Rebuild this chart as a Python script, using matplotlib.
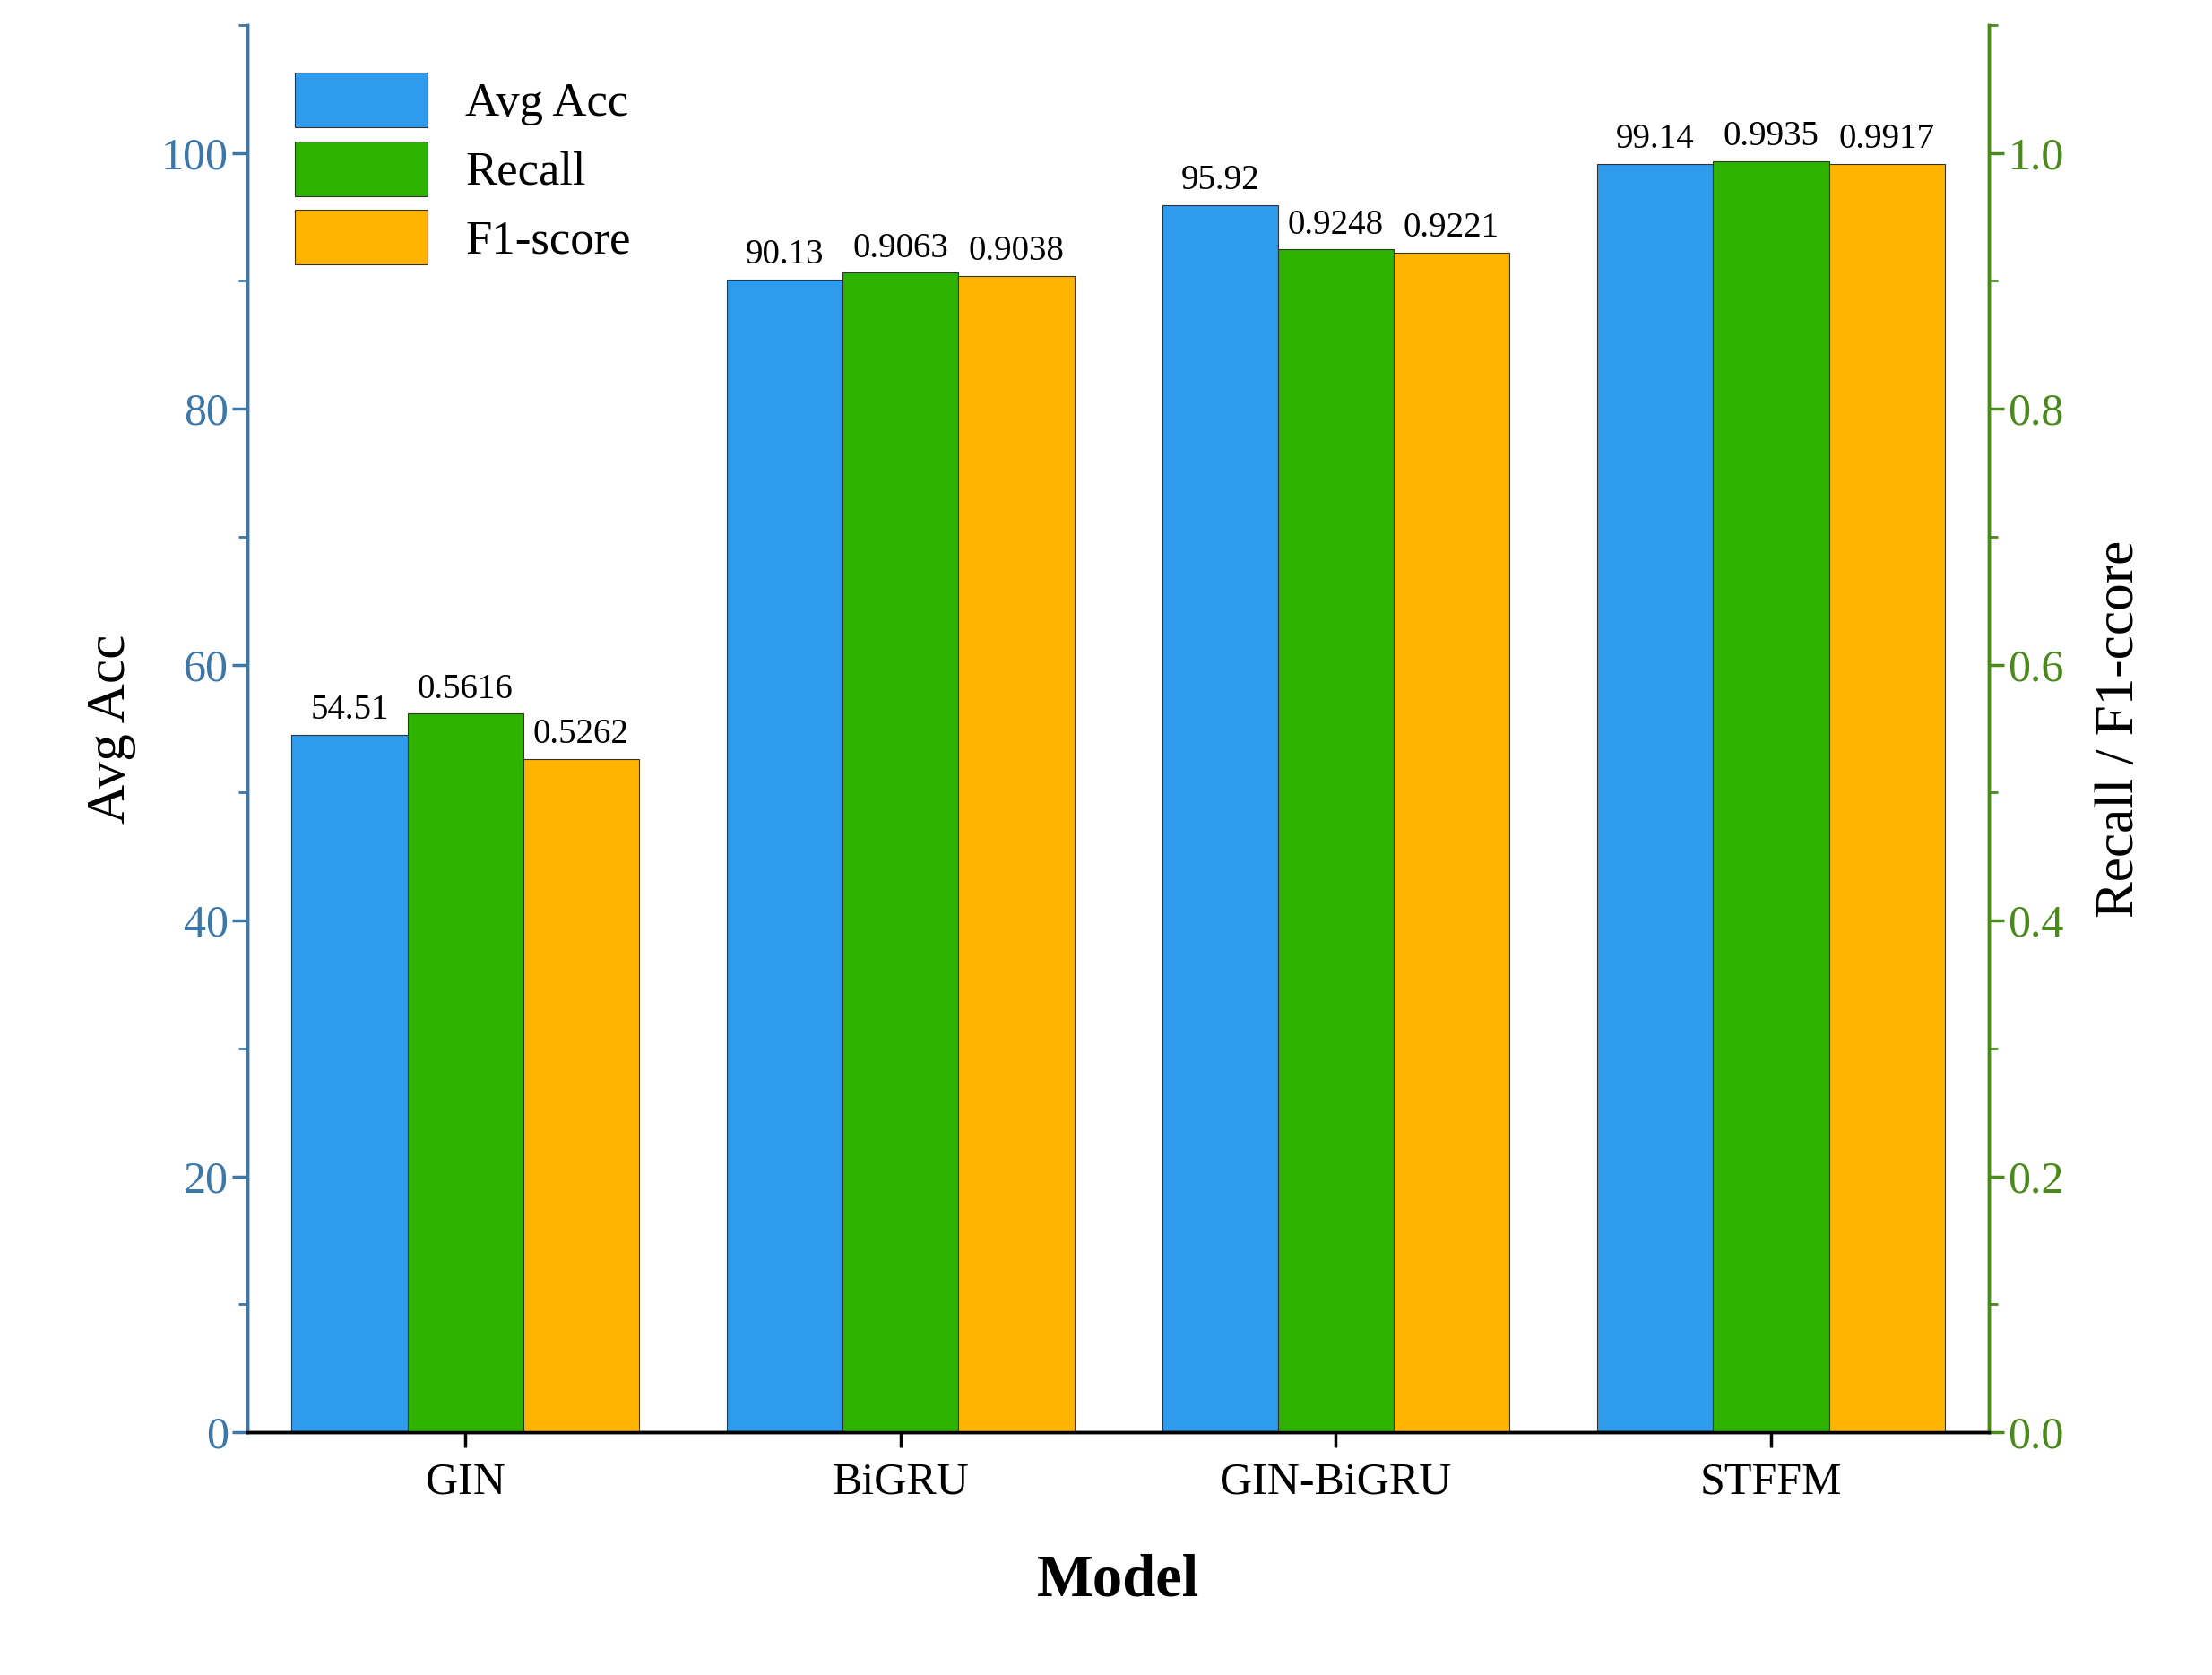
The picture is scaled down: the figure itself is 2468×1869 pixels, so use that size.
import matplotlib
matplotlib.use("Agg")
import matplotlib.pyplot as plt
import numpy as np
from matplotlib.ticker import MultipleLocator

models = ["GIN", "BiGRU", "GIN-BiGRU", "STFFM"]
avg_acc = [54.51, 90.13, 95.92, 99.14]
recall = [0.5616, 0.9063, 0.9248, 0.9935]
f1 = [0.5262, 0.9038, 0.9221, 0.9917]

plt.rcParams['font.family'] = ['Liberation Serif', 'DejaVu Serif']
blue, green, orange = "#2E9BEC", "#2DB300", "#FFB400"
lcol, rcol = "#3B77A8", "#4A8A1A"

fig = plt.figure(figsize=(24.68, 18.69), dpi=100)
ax = fig.add_axes([0.112, 0.145, 0.787, 0.84])
ax2 = ax.twinx()
x = np.arange(len(models))
w = 0.266
b1 = ax.bar(x - w, avg_acc, w, color=blue, edgecolor="#333333", linewidth=0.8, label="Avg Acc")
b2 = ax2.bar(x, recall, w, color=green, edgecolor="#333333", linewidth=0.8, label="Recall")
b3 = ax2.bar(x + w, f1, w, color=orange, edgecolor="#333333", linewidth=0.8, label="F1-score")
for b, v in zip(b1, avg_acc):
    ax.text(b.get_x() + w/2, v + 0.6, f"{v:.2f}", ha="center", va="bottom", fontsize=28)
for bars, vals in ((b2, recall), (b3, f1)):
    for b, v in zip(bars, vals):
        ax2.text(b.get_x() + w/2, v + 0.006, f"{v:.4f}", ha="center", va="bottom", fontsize=28)

ax.set_xlim(-0.5, 3.5)
ax.set_ylim(0, 110)
ax2.set_ylim(0, 1.1)
ax.set_xticks(x)
ax.set_xticklabels(models, fontsize=36)
ax.yaxis.set_major_locator(MultipleLocator(20))
ax.yaxis.set_minor_locator(MultipleLocator(10))
ax2.yaxis.set_major_locator(MultipleLocator(0.2))
ax2.yaxis.set_minor_locator(MultipleLocator(0.1))
ax2.set_yticks(np.arange(0, 1.01, 0.2))
ax2.set_yticklabels([f"{t:.1f}" for t in np.arange(0, 1.01, 0.2)])
ax.tick_params(axis='y', colors=lcol, labelsize=36, width=2.5, length=12, which='major')
ax.tick_params(axis='y', colors=lcol, width=2, length=7, which='minor')
ax.tick_params(axis='x', width=2.5, length=12, labelsize=36, pad=12)
ax2.tick_params(axis='y', colors=rcol, labelsize=36, width=2.5, length=12, which='major')
ax2.tick_params(axis='y', colors=rcol, width=2, length=7, which='minor')
for a in (ax, ax2):
    a.spines['top'].set_visible(False)
    a.spines['left'].set_color(lcol)
    a.spines['right'].set_color(rcol)
    for s in a.spines.values():
        s.set_linewidth(2.5)
ax.set_ylabel("Avg Acc", fontsize=44, labelpad=20)
ax2.set_ylabel("Recall / F1-ccore", fontsize=44, labelpad=25)
ax.set_xlabel("Model", fontsize=48, fontweight="bold", labelpad=40)
ax.legend(handles=[b1, b2, b3], loc="upper left", fontsize=38, frameon=False,
          handlelength=2.8, handleheight=1.4, borderaxespad=0.6, labelspacing=0.3)
fig.savefig("out.png", dpi=100)
